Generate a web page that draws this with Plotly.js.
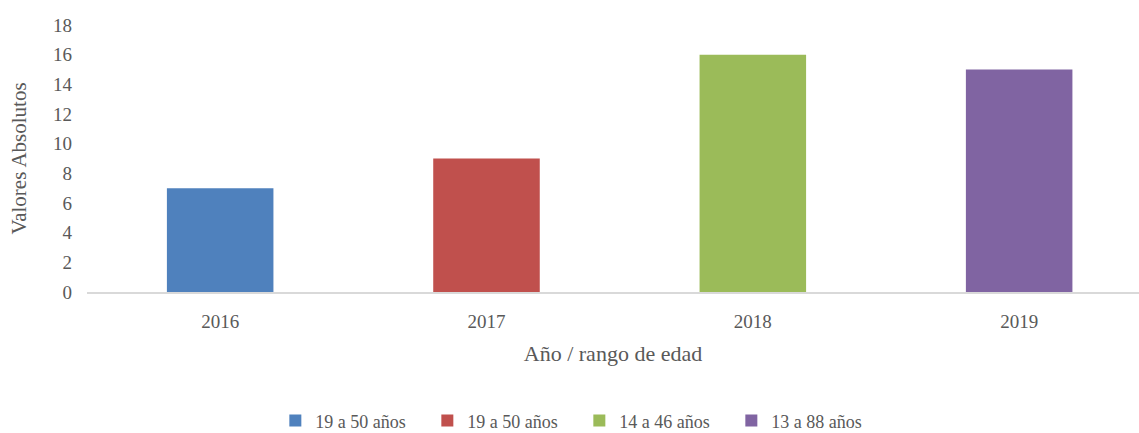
<!DOCTYPE html>
<html><head><meta charset="utf-8">
<script src="https://cdn.plot.ly/plotly-3.0.1.min.js"></script>
<style>html,body{margin:0;padding:0;background:#fff}</style>
</head><body>
<div id="chart" style="width:1139px;height:433px"></div>
<script>
const years = ['2016', '2017', '2018', '2019'];
const values = [7, 9, 16, 15];
const seriesNames = ['19 a 50 años', '19 a 50 años', '14 a 46 años', '13 a 88 años'];
const colors = ['#4f81bd', '#c0504d', '#9bbb59', '#8064a2'];
const yTicks = [0, 2, 4, 6, 8, 10, 12, 14, 16, 18];

const font = "'Liberation Serif', 'DejaVu Serif', serif";
const traces = years.map((y, i) => ({
  type: 'bar',
  x: [y],
  y: [values[i]],
  name: seriesNames[i],
  marker: {color: colors[i]},
  width: 0.4,
  hoverinfo: 'x+y'
}));

const layout = {
  width: 1139, height: 433,
  margin: {l: 87, r: 0, t: 25, b: 141},
  paper_bgcolor: '#fff', plot_bgcolor: '#fff',
  barmode: 'overlay',
  font: {family: font, color: '#595959', size: 19},
  xaxis: {
    type: 'category',
    range: [-0.5, 3.45],
    showline: true, linecolor: '#d9d9d9', linewidth: 1.5,
    showgrid: false, zeroline: false, ticks: '',
    ticklabelstandoff: 12,
    tickfont: {family: font, size: 19, color: '#595959'},
    title: {text: 'Año / rango de edad', font: {family: font, size: 22, color: '#595959'}, standoff: 14}
  },
  yaxis: {
    range: [0, 18],
    tickvals: yTicks,
    showgrid: false, zeroline: false, showline: false, ticks: '',
    ticklabelstandoff: 14,
    tickfont: {family: font, size: 19, color: '#595959'},
    title: {text: 'Valores Absolutos', font: {family: font, size: 21, color: '#595959'}, standoff: 20}
  },
  showlegend: true,
  legend: {
    orientation: 'h',
    xref: 'paper', yref: 'container',
    x: 0.468, xanchor: 'center',
    y: 0.028, yanchor: 'middle',
    font: {family: font, size: 18, color: '#595959'},
    traceorder: 'normal',
    itemwidth: 30,
    entrywidth: 107, entrywidthmode: 'pixels'
  }
};

Plotly.newPlot('chart', traces, layout, {displayModeBar: false, staticPlot: true});
</script>
</body></html>
